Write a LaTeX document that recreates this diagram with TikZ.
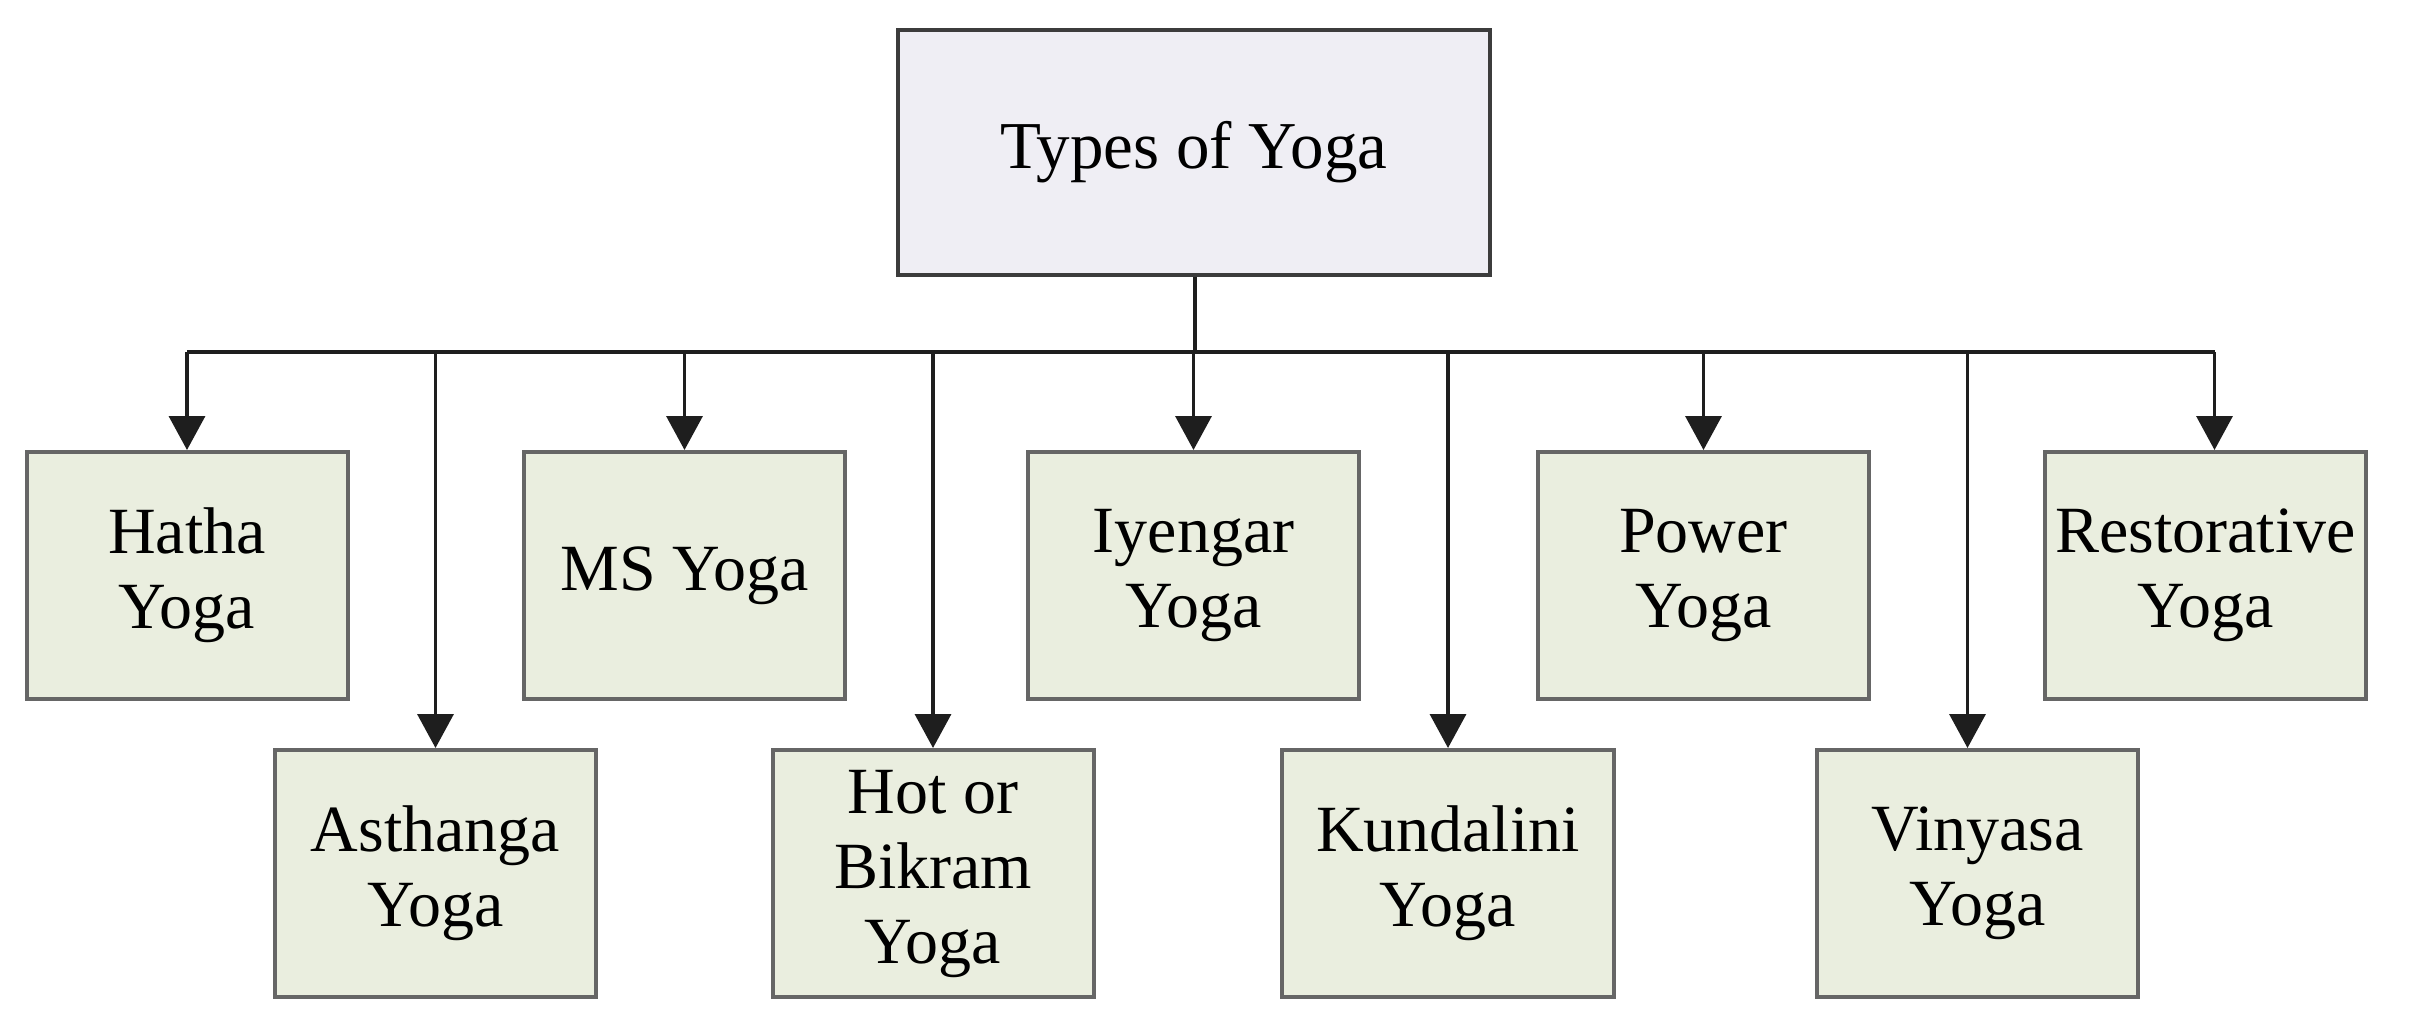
\documentclass[tikz,border=0pt]{standalone}
\usepackage{fontspec}
\setmainfont{Liberation Serif}
\usetikzlibrary{arrows.meta}
\definecolor{topfill}{HTML}{EFEEF4}
\definecolor{kidfill}{HTML}{EAEEDF}
\definecolor{topline}{HTML}{3C3C3C}
\definecolor{kidline}{HTML}{666666}
\definecolor{conn}{HTML}{1E1E1E}
\tikzset{
  rootbox/.style={draw=topline, fill=topfill, line width=4pt, minimum width=592pt, minimum height=245pt, inner sep=0pt, align=center, font=\fontsize{67}{75}\selectfont},
  kidbox/.style={draw=kidline, fill=kidfill, line width=4pt, minimum width=321pt, minimum height=247pt, inner sep=0pt, align=center, font=\fontsize{66}{75}\selectfont},
  arr/.style={draw=conn, line width=3.5pt, -{Triangle[width=36pt,length=34pt]}},
  ln/.style={draw=conn, line width=3.5pt}
}
\begin{document}
\begin{tikzpicture}[x=1pt,y=-1pt]
\useasboundingbox (0,0) rectangle (2409,1031);
\node[rootbox] (top) at (1194,152.5) {Types of Yoga};
\node[kidbox] (hatha) at (187,575.5) {Hatha\\Yoga};
\node[kidbox] (ms) at (684.5,575.5) {MS Yoga};
\node[kidbox, minimum width=331pt] (iyen) at (1193.5,575.5) {Iyengar\\Yoga};
\node[kidbox, minimum width=331pt] (power) at (1703.5,575.5) {Power\\Yoga};
\node[kidbox] (rest) at (2205.5,575.5) {Restorative\\Yoga};
\node[kidbox] (asth) at (435.5,873.5) {Asthanga\\Yoga};
\node[kidbox] (hot) at (933,873.5) {Hot or\\Bikram\\Yoga};
\node[kidbox, minimum width=332pt] (kund) at (1448,873.5) {Kundalini\\Yoga};
\node[kidbox] (viny) at (1977.5,873.5) {Vinyasa\\Yoga};
\coordinate (bus) at (1195,352);
\draw[ln] (top.south -| bus) -- (bus);
\draw[ln] (hatha.north |- bus) -- ([xshift=9pt]rest.north |- bus);
\foreach \k in {hatha,ms,iyen,power,asth,hot,kund}{
  \draw[arr] (\k.north |- bus) -- (\k.north);
}
\draw[arr] ([xshift=9pt]rest.north |- bus) -- ([xshift=9pt]rest.north);
\draw[arr] ([xshift=-10pt]viny.north |- bus) -- ([xshift=-10pt]viny.north);
\end{tikzpicture}
\end{document}
